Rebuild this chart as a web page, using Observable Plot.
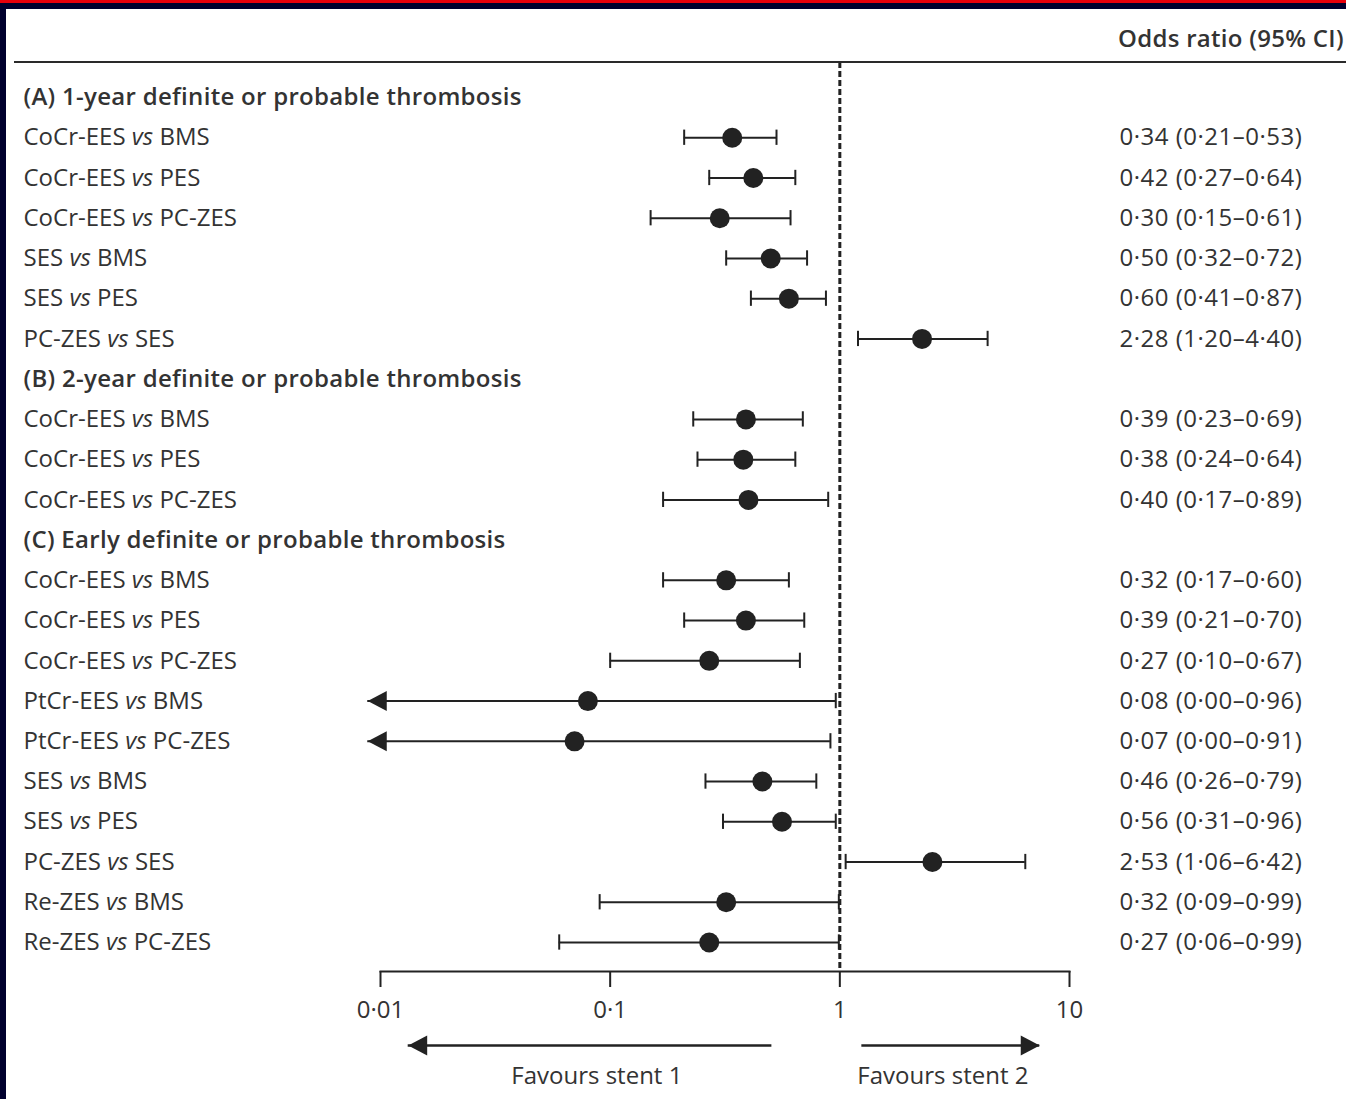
<!DOCTYPE html>
<html><head><meta charset="utf-8">
<script src="https://cdn.jsdelivr.net/npm/d3@7"></script>
<script src="https://cdn.jsdelivr.net/npm/@observablehq/plot@0.6"></script>
<style>
html,body{margin:0;padding:0;background:#fff;}
body{width:1346px;height:1099px;position:relative;overflow:hidden;font-family:"Open Sans",sans-serif;}
#topred{position:absolute;left:0;top:0;width:1346px;height:3px;background:#e8000b;}
#topnavy{position:absolute;left:0;top:3px;width:1346px;height:6px;background:#00002e;}
#leftnavy{position:absolute;left:0;top:3px;width:6px;height:1096px;background:#00002e;}
#chart{position:absolute;left:0;top:0;}
#hdr{position:absolute;left:1118px;top:21px;font-size:24px;line-height:33px;font-weight:600;color:#333;white-space:nowrap;letter-spacing:0.3px;}
#hdrrule{position:absolute;left:14px;top:61px;width:1332px;height:2px;background:#2a2a2a;}
</style></head>
<body>
<div id="chart"></div>
<div id="topred"></div><div id="topnavy"></div><div id="leftnavy"></div>
<div id="hdr">Odds ratio (95% CI)</div>
<div id="hdrrule"></div>
<script>
// ---- data ----
const groupTitles = [
  "(A) 1-year definite or probable thrombosis",
  "(B) 2-year definite or probable thrombosis",
  "(C) Early definite or probable thrombosis"
];
const comparisons = [
  "CoCr-EES vs BMS","CoCr-EES vs PES","CoCr-EES vs PC-ZES","SES vs BMS","SES vs PES","PC-ZES vs SES",
  "CoCr-EES vs BMS","CoCr-EES vs PES","CoCr-EES vs PC-ZES",
  "CoCr-EES vs BMS","CoCr-EES vs PES","CoCr-EES vs PC-ZES","PtCr-EES vs BMS","PtCr-EES vs PC-ZES",
  "SES vs BMS","SES vs PES","PC-ZES vs SES","Re-ZES vs BMS","Re-ZES vs PC-ZES"
];
const groupOf = [0,0,0,0,0,0, 1,1,1, 2,2,2,2,2,2,2,2,2,2];
const oddsRatio = [0.34,0.42,0.30,0.50,0.60,2.28, 0.39,0.38,0.40, 0.32,0.39,0.27,0.08,0.07,0.46,0.56,2.53,0.32,0.27];
const ciLower   = [0.21,0.27,0.15,0.32,0.41,1.20, 0.23,0.24,0.17, 0.17,0.21,0.10,0.00,0.00,0.26,0.31,1.06,0.09,0.06];
const ciUpper   = [0.53,0.64,0.61,0.72,0.87,4.40, 0.69,0.64,0.89, 0.60,0.70,0.67,0.96,0.91,0.79,0.96,6.42,0.99,0.99];
const xTicks = [0.01, 0.1, 1, 10];
const truncatedAt = 0.0088;   // a lower limit of 0·00 is drawn as an arrow running off the axis
const favourLabels = ["Favours stent 1", "Favours stent 2"];
const favourFrom = [0.506, 1.247];
const favourTo   = [0.0132, 7.42];
const favourLabelAt = [0.0875, 2.81];

// ---- build rows ----
const fmt = v => v.toFixed(2).replace(".", "·");
const rows = [], headers = [];
let idx = 0, lastGroup = -1;
comparisons.forEach((c, k) => {
  if (groupOf[k] !== lastGroup) { lastGroup = groupOf[k]; headers.push({i: idx++, label: groupTitles[lastGroup]}); }
  rows.push({i: idx++, label: c, or: oddsRatio[k], lo: ciLower[k], hi: ciUpper[k],
    text: `${fmt(oddsRatio[k])} (${fmt(ciLower[k])}–${fmt(ciUpper[k])})`});
});
const lastRow = idx - 1;
const favours = favourLabels.map((l, k) => ({label: l, from: favourFrom[k], to: favourTo[k], at: favourLabelAt[k]}));

const leftHead = {draw(ctx){ ctx.moveTo(0,0); ctx.lineTo(19,-10); ctx.lineTo(19,10); ctx.closePath(); }};
const rightHead = {draw(ctx){ ctx.moveTo(0,0); ctx.lineTo(-19,-10); ctx.lineTo(-19,10); ctx.closePath(); }};
const ink = "#222", txt = "#333", FONT = 24;

const plot = Plot.plot({
  width: 1346, height: 1099,
  marginLeft: 380, marginRight: 277, marginTop: 62, marginBottom: 128,
  style: {fontFamily: '"Open Sans", sans-serif', fontSize: FONT + "px", color: txt, background: "transparent"},
  x: {type: "log", domain: [0.01, 10]},
  y: {domain: [0, lastRow], range: [97, 942], axis: null},
  marks: [
    Plot.frame({anchor: "bottom", stroke: ink, strokeWidth: 2}),
    Plot.axisX({ticks: xTicks, tickSize: 16, tickPadding: 13, strokeWidth: 2, stroke: ink,
      tickFormat: d => String(d).replace(".", "·"), fontSize: FONT, fill: txt, label: null}),
    Plot.ruleX([1], {stroke: ink, strokeWidth: 3, strokeDasharray: "6,3"}),
    // confidence intervals
    Plot.ruleY(rows, {y: "i", x1: d => d.lo > 0 ? d.lo : truncatedAt, x2: "hi", stroke: ink, strokeWidth: 2}),
    Plot.ruleX(rows.filter(d => d.lo > 0), {x: "lo", y1: d => d.i - 0.19, y2: d => d.i + 0.19, stroke: ink, strokeWidth: 2}),
    Plot.ruleX(rows, {x: "hi", y1: d => d.i - 0.19, y2: d => d.i + 0.19, stroke: ink, strokeWidth: 2}),
    Plot.dot(rows.filter(d => d.lo <= 0), {x: () => truncatedAt, y: "i", symbol: leftHead, fill: ink, stroke: null}),
    Plot.dot(rows, {x: "or", y: "i", r: 10, fill: ink, stroke: null}),
    // labels
    Plot.text(headers, {y: "i", text: "label", frameAnchor: "left", dx: -357, textAnchor: "start",
      fontWeight: 600, fill: txt, fontSize: FONT, className: "grplab"}),
    Plot.text(rows, {y: "i", text: "label", frameAnchor: "left", dx: -357, textAnchor: "start",
      fill: txt, fontSize: FONT, className: "rowlab"}),
    Plot.text(rows, {y: "i", text: "text", frameAnchor: "right", dx: 50, textAnchor: "start",
      fill: txt, fontSize: FONT, className: "numlab"}),
    // favours arrows
    Plot.ruleY(favours, {y: () => lastRow, dy: 103, x1: "from", x2: "to", stroke: ink, strokeWidth: 2.5}),
    Plot.dot(favours, {x: "to", y: () => lastRow, dy: 103, symbol: d => d.to < 1 ? "L" : "R", fill: ink, stroke: null}),
    Plot.text(favours, {x: "at", y: () => lastRow, dy: 134, text: "label", fill: txt, fontSize: FONT})
  ],
  symbol: {domain: ["L", "R"], range: [leftHead, rightHead]}
});
document.getElementById("chart").appendChild(plot);
d3.selectAll(".numlab text").attr("letter-spacing", "0.5px");
d3.selectAll(".grplab text").attr("letter-spacing", "0.3px");

// italic "vs"
d3.selectAll(".rowlab text").each(function() {
  const t = this.textContent, parts = t.split(" vs ");
  if (parts.length !== 2) return;
  const s = d3.select(this); s.text(null);
  s.append("tspan").text(parts[0] + " ");
  s.append("tspan").attr("font-style", "italic").text("vs");
  s.append("tspan").text(" " + parts[1]);
});
</script>
</body></html>
